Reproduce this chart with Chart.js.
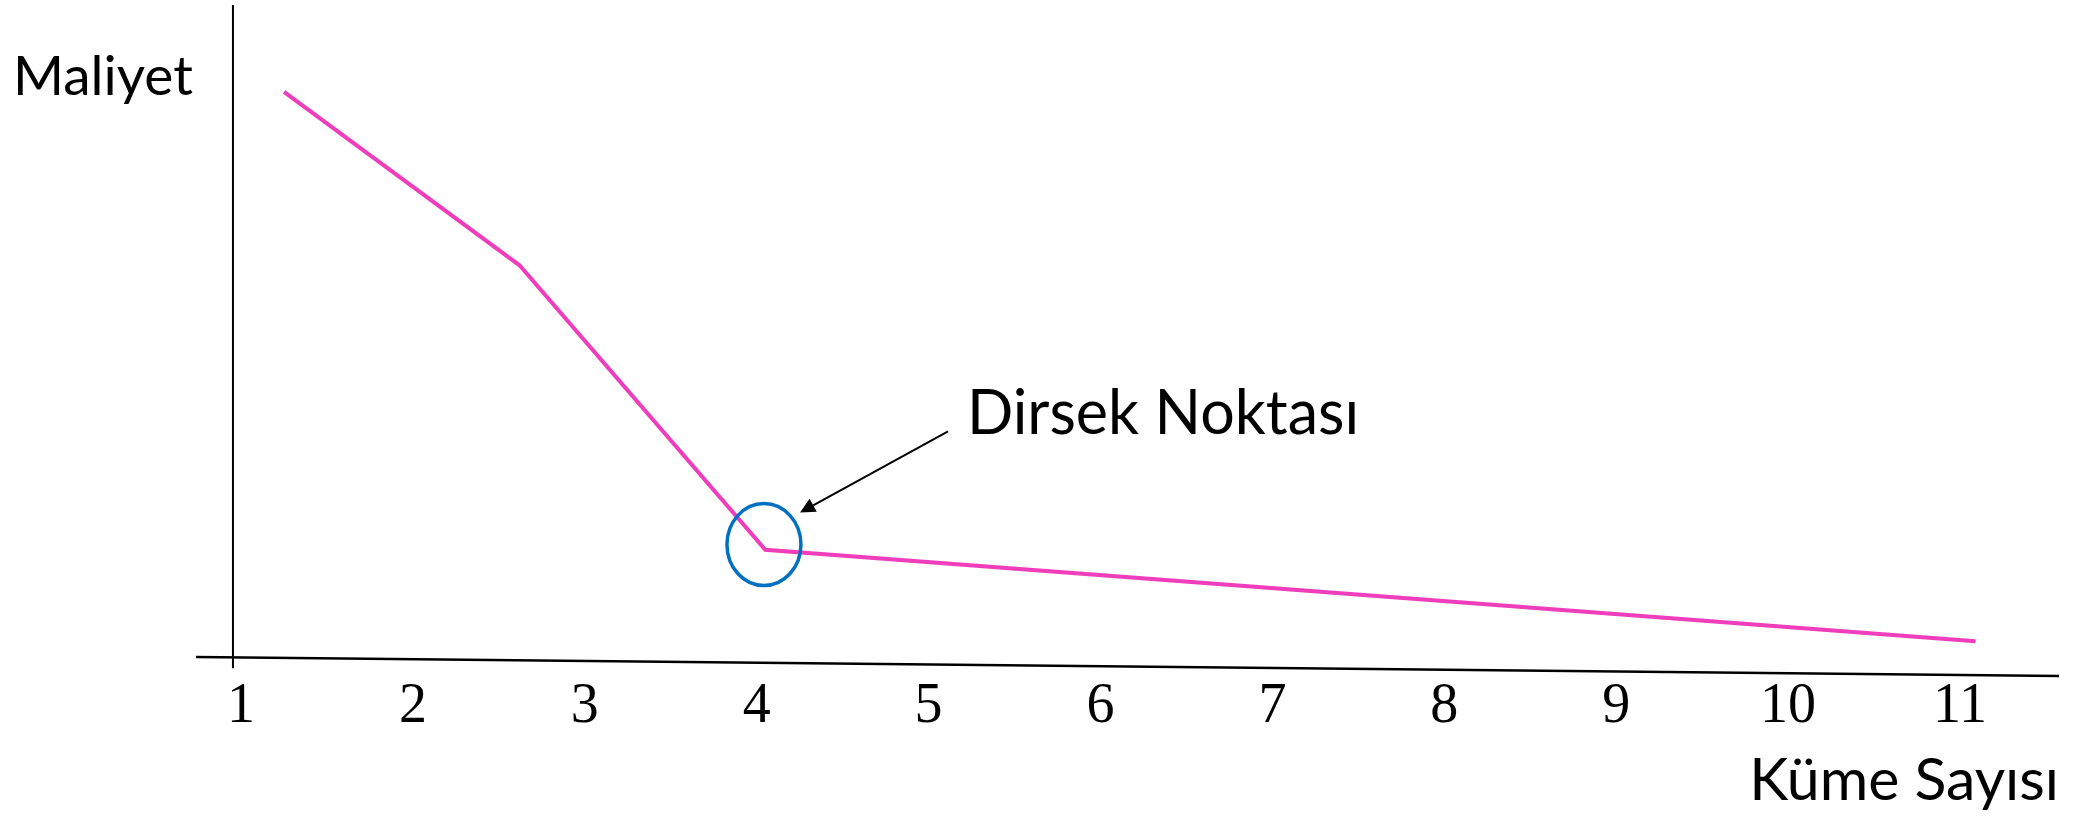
<!DOCTYPE html>
<html lang="tr">
<head>
    <meta charset="UTF-8">
    <title>Dirsek Yöntemi</title>
    <script src="https://cdn.jsdelivr.net/npm/chart.js"></script>
    <style>
        body {
            margin: 0;
            padding: 0;
            background-color: #ffffff;
        }
        #chart-container {
            width: 2076px;
            height: 817px;
        }
    </style>
</head>
<body>
    <div id="chart-container">
        <canvas id="dirsekChart"></canvas>
    </div>
    <script>
        // x ekseni etiketleri (küme sayısı)
        const kumeSayilari = [1, 2, 3, 4, 5, 6, 7, 8, 9, 10, 11];

        // maliyet eğrisinin köşe noktaları
        const maliyetX = [1.25, 2.62, 4.05, 11.09];
        const maliyetY = [86.7, 60.2, 16.7, 2.7];

        // elle çizilmiş eksen çizgileri (x ekseni hafif eğik)
        const yEkseniX = [0.953, 0.953];
        const yEkseniY = [100, -1.4];
        const xEkseniX = [0.738, 11.576];
        const xEkseniY = [0.3, -2.6];

        // dirsek noktası ve ok
        const dirsekNoktasi = [4.042, 17.5];
        const okKuyrugu = [5.113, 34.8];
        const okUcu = [4.252, 22.4];
        const etiketKonumu = [5.223, 34.4];

        const pembe = '#EF3DBB';
        const mavi = '#0070C0';
        const yaziFontu = 'Lato, "Open Sans", sans-serif';

        function noktalar(xs, ys) {
            return xs.map((v, i) => ({ x: v, y: ys[i] }));
        }

        const sekilEklentisi = {
            id: 'sekiller',
            afterDatasetsDraw(chart) {
                const ctx = chart.ctx;
                const x = chart.scales.x;
                const y = chart.scales.y;
                ctx.save();

                // dirsek noktasını çevreleyen elips
                ctx.strokeStyle = mavi;
                ctx.lineWidth = 3.5;
                ctx.beginPath();
                ctx.ellipse(x.getPixelForValue(dirsekNoktasi[0]), y.getPixelForValue(dirsekNoktasi[1]), 37, 41, 0, 0, Math.PI * 2);
                ctx.stroke();

                // ok
                const x1 = x.getPixelForValue(okKuyrugu[0]), y1 = y.getPixelForValue(okKuyrugu[1]);
                const x2 = x.getPixelForValue(okUcu[0]), y2 = y.getPixelForValue(okUcu[1]);
                const aci = Math.atan2(y2 - y1, x2 - x1);
                const uz = 15, gen = 7.5;
                ctx.strokeStyle = '#000';
                ctx.fillStyle = '#000';
                ctx.lineWidth = 2;
                ctx.beginPath();
                ctx.moveTo(x1, y1);
                ctx.lineTo(x2 - uz * Math.cos(aci), y2 - uz * Math.sin(aci));
                ctx.stroke();
                ctx.beginPath();
                ctx.moveTo(x2, y2);
                ctx.lineTo(x2 - uz * Math.cos(aci) + gen * Math.sin(aci), y2 - uz * Math.sin(aci) - gen * Math.cos(aci));
                ctx.lineTo(x2 - uz * Math.cos(aci) - gen * Math.sin(aci), y2 - uz * Math.sin(aci) + gen * Math.cos(aci));
                ctx.closePath();
                ctx.fill();

                // yazılar
                ctx.textBaseline = 'alphabetic';
                ctx.textAlign = 'left';
                ctx.font = '61px ' + yaziFontu;
                ctx.fillText('Dirsek Noktası', x.getPixelForValue(etiketKonumu[0]), y.getPixelForValue(etiketKonumu[1]));
                ctx.font = '55px ' + yaziFontu;
                ctx.fillText('Maliyet', 13, 95);
                ctx.restore();
            }
        };

        const ctx = document.getElementById('dirsekChart').getContext('2d');
        new Chart(ctx, {
            type: 'line',
            data: {
                datasets: [
                    {
                        label: 'Maliyet',
                        data: noktalar(maliyetX, maliyetY),
                        borderColor: pembe,
                        borderWidth: 4,
                        pointRadius: 0,
                        tension: 0,
                    },
                    {
                        label: 'y ekseni',
                        data: noktalar(yEkseniX, yEkseniY),
                        borderColor: '#000',
                        borderWidth: 2,
                        pointRadius: 0,
                        clip: false,
                    },
                    {
                        label: 'x ekseni',
                        data: noktalar(xEkseniX, xEkseniY),
                        borderColor: '#000',
                        borderWidth: 2.5,
                        pointRadius: 0,
                        clip: false,
                    },
                ],
            },
            options: {
                responsive: true,
                maintainAspectRatio: false,
                animation: false,
                layout: {
                    padding: { left: 196, right: 17, top: 5, bottom: 0 },
                },
                plugins: {
                    legend: { display: false },
                    tooltip: { enabled: false },
                },
                scales: {
                    x: {
                        type: 'linear',
                        min: 0.738,
                        max: 11.576,
                        grid: { display: false, drawTicks: false },
                        border: { display: false },
                        afterBuildTicks: (scale) => {
                            scale.ticks = kumeSayilari.map(v => ({ value: v }));
                        },
                        ticks: {
                            padding: 3,
                            color: '#000',
                            font: { family: '"Liberation Serif", serif', size: 56, lineHeight: 1 },
                            maxRotation: 0,
                            autoSkip: false,
                        },
                        title: {
                            display: true,
                            text: 'Küme Sayısı',
                            align: 'end',
                            color: '#000',
                            font: { family: yaziFontu, size: 59, lineHeight: 1 },
                            padding: { top: 13, bottom: 7 },
                        },
                    },
                    y: {
                        display: false,
                        min: -2.6,
                        max: 100,
                    },
                },
            },
            plugins: [sekilEklentisi],
        });
    </script>
</body>
</html>
